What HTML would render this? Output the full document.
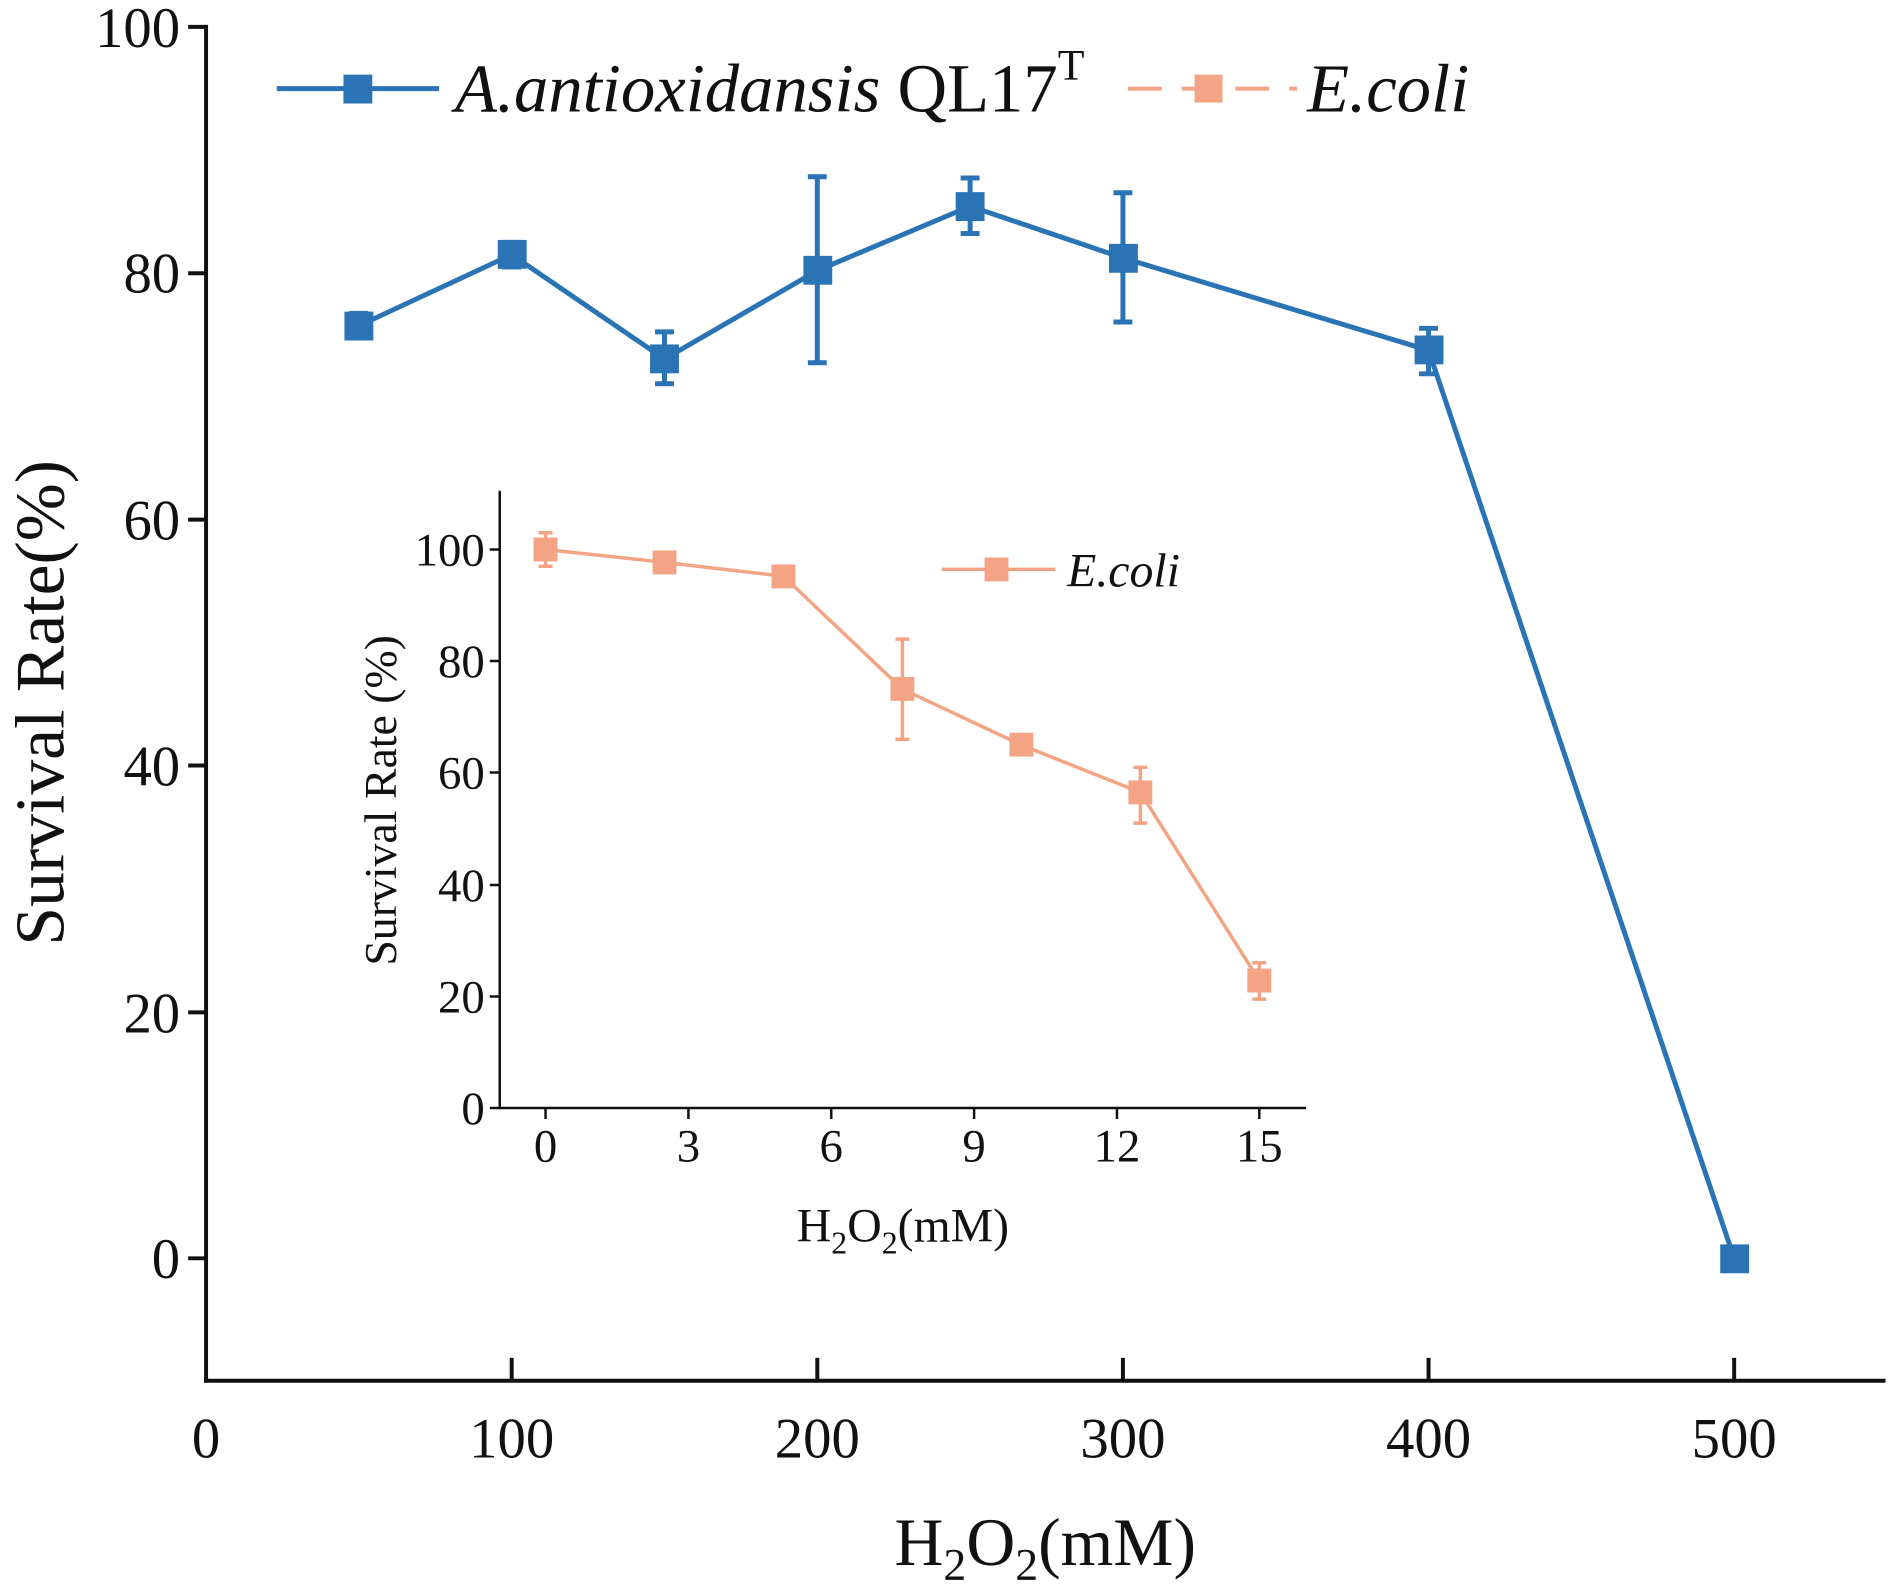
<!DOCTYPE html>
<html><head><meta charset="utf-8"><style>
html,body{margin:0;padding:0;background:#fff;}
svg{display:block;font-family:"Liberation Serif",serif;}
</style></head><body>
<svg width="1901" height="1595" viewBox="0 0 1901 1595" xmlns="http://www.w3.org/2000/svg">
<g transform="scale(0.9955)">
<g stroke="#111" stroke-width="4" fill="none">
<line x1="207" y1="25" x2="207" y2="1389"/>
<line x1="205" y1="1387" x2="1894" y2="1387"/>
<line x1="189" y1="27" x2="207" y2="27"/>
<line x1="189" y1="274.5" x2="207" y2="274.5"/>
<line x1="189" y1="522" x2="207" y2="522"/>
<line x1="189" y1="769" x2="207" y2="769"/>
<line x1="189" y1="1017" x2="207" y2="1017"/>
<line x1="189" y1="1264" x2="207" y2="1264"/>
<line x1="514" y1="1387" x2="514" y2="1364"/>
<line x1="821" y1="1387" x2="821" y2="1364"/>
<line x1="1128" y1="1387" x2="1128" y2="1364"/>
<line x1="1435" y1="1387" x2="1435" y2="1364"/>
<line x1="1742" y1="1387" x2="1742" y2="1364"/>
</g>
<g font-size="57" fill="#111" text-anchor="end">
<text x="181" y="47">100</text><text x="181" y="294">80</text><text x="181" y="542">60</text>
<text x="181" y="789">40</text><text x="181" y="1037">20</text><text x="181" y="1284">0</text>
</g>
<g font-size="57" fill="#111" text-anchor="middle">
<text x="207" y="1464">0</text><text x="514" y="1464">100</text><text x="821" y="1464">200</text>
<text x="1128" y="1464">300</text><text x="1435" y="1464">400</text><text x="1742" y="1464">500</text>
</g>
<text x="1050" y="1572" font-size="68" text-anchor="middle" fill="#111">H<tspan font-size="46" dy="15">2</tspan><tspan dy="-15">O</tspan><tspan font-size="46" dy="15">2</tspan><tspan dy="-15">(mM)</tspan></text>
<text transform="translate(64,706) rotate(-90)" font-size="70" text-anchor="middle" fill="#111">Survival Rate(%)</text>

<g stroke="#2a73b5" stroke-width="5" fill="none">
<polyline points="360.5,327.2 514,255.8 667.5,360.7 821,271.8 974.5,207.2 1128,259.1 1435,351.9 1742,1264"/>
<path d="M360.5,314.8V339.6M351,314.8h19M351,339.6h19
M514,243.4V268.2M504.5,243.4h19M504.5,268.2h19
M667.5,333.4V385.5M658,333.4h19M658,385.5h19
M821,177.5V364.4M811.5,177.5h19M811.5,364.4h19
M974.5,178.8V234.6M965,178.8h19M965,234.6h19
M1128,193.6V323.5M1118.5,193.6h19M1118.5,323.5h19
M1435,329.8V375.5M1425.5,329.8h19M1425.5,375.5h19"/>
</g>
<g fill="#2a73b5">
<rect x="346" y="313" width="29" height="29"/><rect x="500" y="241" width="29" height="29"/>
<rect x="653" y="346" width="29" height="29"/><rect x="807" y="257" width="29" height="29"/>
<rect x="960" y="193" width="29" height="29"/><rect x="1114" y="245" width="29" height="29"/>
<rect x="1421" y="337" width="29" height="29"/><rect x="1728" y="1250" width="29" height="29"/>
</g>

<line x1="278" y1="89" x2="441" y2="89" stroke="#2a73b5" stroke-width="5"/>
<rect x="345" y="75" width="29" height="29" fill="#2a73b5"/>
<text x="457" y="112" font-size="69" fill="#111"><tspan font-style="italic">A.antioxidansis</tspan> QL17<tspan font-size="44" dy="-32">T</tspan></text>
<line x1="1133" y1="89" x2="1303" y2="89" stroke="#f4a384" stroke-width="4" stroke-dasharray="34,20"/>
<rect x="1200" y="75" width="28" height="28" fill="#f4a384"/>
<text x="1313" y="112" font-size="69" font-style="italic" fill="#111">E.coli</text>

<g stroke="#111" stroke-width="2.5" fill="none">
<line x1="502" y1="493" x2="502" y2="1114"/>
<line x1="501" y1="1113" x2="1312" y2="1113"/>
<path d="M492,552h10M492,664h10M492,776h10M492,889h10M492,1001h10M492,1113h10"/>
<path d="M548,1113v11M691.5,1113v11M835,1113v11M978.5,1113v11M1122,1113v11M1265,1113v11"/>
</g>
<g font-size="47" fill="#111" text-anchor="end">
<text x="487" y="568">100</text><text x="487" y="680">80</text><text x="487" y="792">60</text>
<text x="487" y="905">40</text><text x="487" y="1017">20</text><text x="487" y="1129">0</text>
</g>
<g font-size="47" fill="#111" text-anchor="middle">
<text x="548" y="1167">0</text><text x="691.5" y="1167">3</text><text x="835" y="1167">6</text>
<text x="978.5" y="1167">9</text><text x="1122" y="1167">12</text><text x="1265" y="1167">15</text>
</g>
<text x="907" y="1247" font-size="48" text-anchor="middle" fill="#111">H<tspan font-size="32" dy="12">2</tspan><tspan dy="-12">O</tspan><tspan font-size="32" dy="12">2</tspan><tspan dy="-12">(mM)</tspan></text>
<text transform="translate(398,804) rotate(-90)" font-size="46" text-anchor="middle" fill="#111">Survival Rate (%)</text>

<g stroke="#f4a384" stroke-width="3.5" fill="none">
<polyline points="548,552 667.5,564.9 787,578.9 906.5,692.2 1026,748.4 1145.5,796 1265,985.1"/>
<path d="M548,535.2V568.8M541,535.2h14M541,568.8h14
M906.5,642V742.7M899.5,642h14M899.5,742.7h14
M1145.5,770.8V826.9M1138.5,770.8h14M1138.5,826.9h14
M1265,967.1V1003.6M1258,967.1h14M1258,1003.6h14
M787,571v16M780,571h14M780,587h14
M1026,740v17M1019,740h14M1019,757h14"/>
<line x1="946" y1="572" x2="1060" y2="572"/>
</g>
<g fill="#f4a384">
<rect x="536" y="540" width="24" height="24"/><rect x="655.5" y="553" width="24" height="24"/>
<rect x="775" y="567" width="24" height="24"/><rect x="894.5" y="680" width="24" height="24"/>
<rect x="1014" y="736" width="24" height="24"/><rect x="1133.5" y="784" width="24" height="24"/>
<rect x="1253" y="973" width="24" height="24"/>
<rect x="989" y="560" width="24" height="24"/>
</g>
<text x="1072" y="589" font-size="48" font-style="italic" fill="#111">E.coli</text>
</g>
</svg>
</body></html>
